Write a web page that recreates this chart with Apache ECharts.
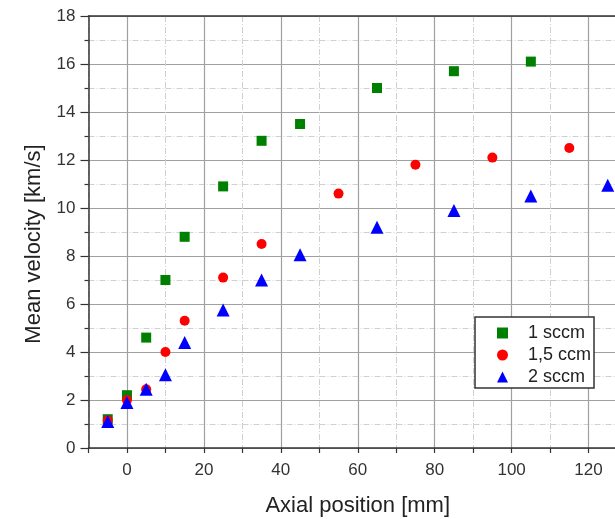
<!DOCTYPE html>
<html><head><meta charset="utf-8">
<script src="https://cdn.jsdelivr.net/npm/echarts@6/dist/echarts.min.js"></script>
<style>html,body{margin:0;padding:0;background:#fff}#c{width:615px;height:519px}</style>
</head><body><div id="c"></div>
<script>
const seriesNames = ['1 sccm', '1,5 ccm', '2 sccm'];
const x1 = [-5, 0, 5, 10, 15, 25, 35, 45, 65, 85, 105];
const y1 = [1.2, 2.2, 4.6, 7.0, 8.8, 10.9, 12.8, 13.5, 15.0, 15.7, 16.1];
const x2 = [-5, 0, 5, 10, 15, 25, 35, 55, 75, 95, 115];
const y2 = [1.15, 2.0, 2.45, 4.0, 5.3, 7.1, 8.5, 10.6, 11.8, 12.1, 12.5];
const x3 = [-5, 0, 5, 10, 15, 25, 35, 45, 65, 85, 105, 125];
const y3 = [1.1, 1.9, 2.45, 3.05, 4.4, 5.75, 7.0, 8.05, 9.2, 9.9, 10.5, 10.95];
const xLabelStep = 20;

const pair = (xs, ys) => xs.map((v, i) => [v, ys[i]]);
const FONT = 'Liberation Sans';
const xMin = -10, xMax = 130;
const gLeft = 88.5, gRight = -12, gTop = 16, gBottom = 71;
const plotW = 615 - gLeft - gRight;
const zeroLeft = gLeft + (0 - xMin) / (xMax - xMin) * plotW;

const chart = echarts.init(document.getElementById('c'));
chart.setOption({
  animation: false,
  grid: [
    {left: gLeft, right: gRight, top: gTop, bottom: gBottom, outerBoundsMode: 'none', containLabel: false},
    {left: zeroLeft, right: gRight, top: gTop, bottom: gBottom, outerBoundsMode: 'none', containLabel: false}
  ],
  xAxis: [
    {
      type: 'value', gridIndex: 0, min: xMin, max: xMax, interval: 10,
      name: 'Axial position [mm]', nameLocation: 'middle', nameGap: 47,
      nameTextStyle: {fontFamily: FONT, fontSize: 22, color: '#222'},
      axisLine: {show: true, onZero: false, lineStyle: {color: '#333', width: 1.5}},
      axisTick: {show: true, inside: false, length: 5, lineStyle: {color: '#333', width: 1.2}},
      axisLabel: {fontFamily: FONT, fontSize: 17, color: '#333', margin: 14,
        formatter: v => (v % xLabelStep === 0 ? String(v) : '')},
      splitLine: {show: true, lineStyle: {color: '#d0d0d0', width: 1, type: [6, 2, 1, 2]}}
    },
    {
      type: 'value', gridIndex: 1, min: 0, max: xMax, interval: xLabelStep,
      axisLine: {show: false}, axisTick: {show: false}, axisLabel: {show: false},
      splitLine: {show: true, lineStyle: {color: '#a0a0a0', width: 1.2}}
    },
    {
      type: 'value', gridIndex: 0, min: xMin, max: xMax, position: 'top',
      axisLine: {show: true, onZero: false, lineStyle: {color: '#333', width: 1.5}},
      axisTick: {show: false}, axisLabel: {show: false}, splitLine: {show: false}
    }
  ],
  yAxis: [
    {
      type: 'value', gridIndex: 0, min: 0, max: 18, interval: 2,
      name: 'Mean velocity [km/s]', nameLocation: 'middle', nameGap: 44,
      nameTextStyle: {fontFamily: FONT, fontSize: 22, color: '#222', padding: [0, 24, 0, 0]},
      axisLine: {show: true, onZero: false, lineStyle: {color: '#333', width: 1.5}},
      axisTick: {show: true, length: 8, lineStyle: {color: '#333', width: 1.2}},
      minorTick: {show: true, splitNumber: 2, length: 4, lineStyle: {color: '#333', width: 1.2}},
      axisLabel: {fontFamily: FONT, fontSize: 17, color: '#333', margin: 13},
      splitLine: {show: true, lineStyle: {color: '#a0a0a0', width: 1.2}},
      minorSplitLine: {show: true, lineStyle: {color: '#d0d0d0', width: 1, type: [6, 2, 1, 2]}}
    },
    {
      type: 'value', gridIndex: 1, min: 0, max: 18, show: false,
      splitLine: {show: false}
    }
  ],
  legend: {
    show: true, orient: 'vertical', left: 475, top: 317,
    padding: [7, 3, 2, 22],
    itemWidth: 11, itemHeight: 11, itemGap: 4,
    backgroundColor: '#fff', borderColor: '#333', borderWidth: 1.5,
    textStyle: {fontFamily: FONT, fontSize: 18, color: '#222', padding: [0, 0, 0, 15]},
    data: [
      {name: seriesNames[0], icon: 'rect'},
      {name: seriesNames[1], icon: 'circle'},
      {name: seriesNames[2], icon: 'triangle'}
    ]
  },
  series: [
    {name: seriesNames[0], type: 'scatter', xAxisIndex: 0, yAxisIndex: 0,
      symbol: 'rect', symbolSize: 10, itemStyle: {color: '#008000', opacity: 1},
      data: pair(x1, y1), z: 3},
    {name: seriesNames[1], type: 'scatter', xAxisIndex: 0, yAxisIndex: 0,
      symbol: 'circle', symbolSize: 10, itemStyle: {color: '#ff0000', opacity: 1},
      data: pair(x2, y2), z: 4},
    {name: seriesNames[2], type: 'scatter', xAxisIndex: 0, yAxisIndex: 0,
      symbol: 'triangle', symbolSize: 13, itemStyle: {color: '#0000ff', opacity: 1},
      data: pair(x3, y3), z: 5}
  ]
});
</script>
</body></html>
